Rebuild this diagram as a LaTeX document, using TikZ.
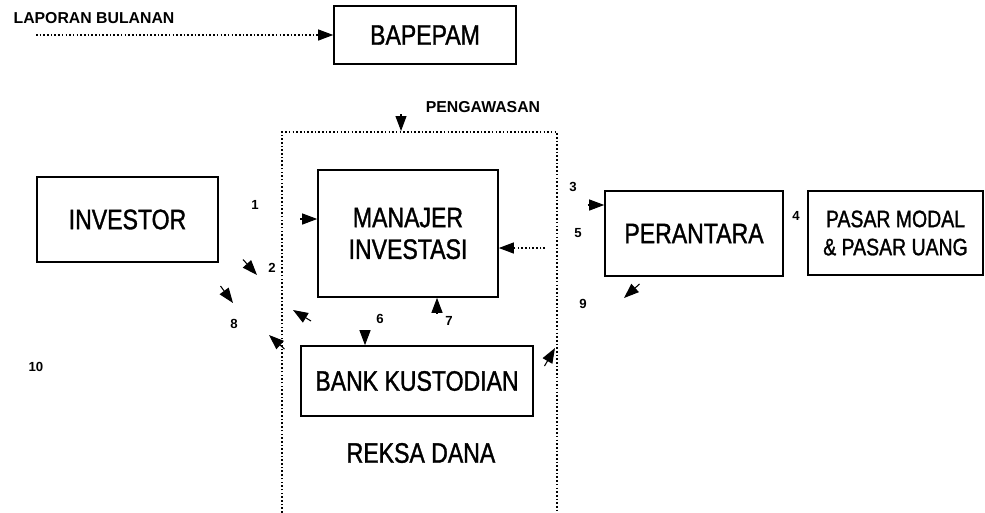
\documentclass[tikz,border=0pt]{standalone}
\usepackage{fontspec}
\setmainfont{Liberation Sans}
\newfontfamily\narrowfont[FakeStretch=0.82, FakeBold=1.2]{Liberation Sans}
\usetikzlibrary{arrows.meta,positioning}

\begin{document}
\begin{tikzpicture}[
  box/.style={draw, line width=0.9pt, inner sep=0pt, align=center,
    font=\narrowfont\fontsize{16}{18}\selectfont},
  lbl/.style={font=\bfseries\fontsize{9}{10}\selectfont, inner sep=0pt},
  num/.style={font=\bfseries\fontsize{7.5}{8}\selectfont, inner sep=0pt},
  tip/.style={-{Triangle[length=3mm, width=2.2mm]}, line width=0.6pt},
  dotline/.style={line width=1.1pt, dash pattern=on 0.9pt off 1.2pt},
]
\useasboundingbox (0,0) rectangle (19.7,-10.24);

% top
\node[lbl] (lap) at (1.88,-0.36) {LAPORAN BULANAN};
\node[box, minimum width=3.64cm, minimum height=1.16cm] (bap) at (8.5,-0.7) {BAPEPAM};
\coordinate (lapend) at (0.72,-0.7);
\draw[dotline, tip] (lapend) -- (bap.west);

% reksa dana frame
\node[lbl] (peng) at (9.66,-2.14) {PENGAWASAN};
\draw[dotline] (5.64,-10.4) -- (5.64,-2.64) -- (11.14,-2.64) -- (11.14,-10.4);
\coordinate (frametop) at (8.02,-2.62);
\coordinate (pengend) at (8.02,-2.28);
\draw[tip] (pengend) -- (frametop);
\node[box, draw=none] (reksa) at (8.42,-9.06) {REKSA DANA};

% boxes
\node[box, minimum width=3.62cm, minimum height=1.7cm] (inv) at (2.55,-4.39) {INVESTOR};
\node[box, minimum width=3.6cm, minimum height=2.54cm] (man) at (8.16,-4.67) {MANAJER\\INVESTASI};
\node[box, minimum width=3.56cm, minimum height=1.7cm] (per) at (13.88,-4.67) {PERANTARA};
\node[box, minimum width=3.5cm, minimum height=1.68cm,
  font=\narrowfont\fontsize{13.5}{16}\selectfont] (pasar) at (17.91,-4.66) {PASAR MODAL\\\& PASAR UANG};
\node[box, minimum width=4.64cm, minimum height=1.4cm] (bank) at (8.34,-7.62) {BANK KUSTODIAN};

% straight arrows
\coordinate (a1) at (6.0,-4.38);
\draw[tip] (a1) -- (a1 -| man.west);
\coordinate (a3) at (11.75,-4.1);
\draw[tip] (a3) -- (a3 -| per.west);
\coordinate (a5) at (10.9,-4.96);
\draw[dotline, tip] (a5) -- (a5 -| man.east);
\coordinate (a6) at (7.3,-6.62);
\draw[tip] (a6) -- (a6 |- bank.north);
\coordinate (a7) at (8.74,-6.26);
\draw[tip] (a7) -- (a7 |- man.south);

% loose arrow heads
\coordinate (h2a) at (4.86,-5.19);  \coordinate (h2b) at (5.14,-5.50);
\coordinate (h8a) at (4.41,-5.72);  \coordinate (h8b) at (4.66,-6.06);
\coordinate (hca) at (6.22,-6.42);  \coordinate (hcb) at (5.86,-6.20);
\coordinate (hda) at (5.69,-6.98);  \coordinate (hdb) at (5.38,-6.70);
\coordinate (h9a) at (12.79,-5.68); \coordinate (h9b) at (12.48,-5.96);
\coordinate (hfa) at (10.89,-7.32); \coordinate (hfb) at (11.10,-6.96);
\draw[tip] (h2a) -- (h2b);
\draw[tip] (h8a) -- (h8b);
\draw[tip] (hca) -- (hcb);
\draw[tip] (hda) -- (hdb);
\draw[tip] (h9a) -- (h9b);
\draw[tip] (hfa) -- (hfb);

% numbers
\node[num] (n1) at (5.10,-4.10) {1};
\node[num] (n2) at (5.44,-5.36) {2};
\node[num] (n3) at (11.46,-3.74) {3};
\node[num] (n4) at (15.92,-4.32) {4};
\node[num] (n5) at (11.56,-4.66) {5};
\node[num] (n6) at (7.60,-6.38) {6};
\node[num] (n7) at (8.98,-6.42) {7};
\node[num] (n8) at (4.68,-6.48) {8};
\node[num] (n9) at (11.66,-6.08) {9};
\node[num] (n10) at (0.72,-7.34) {10};
\end{tikzpicture}
\end{document}
